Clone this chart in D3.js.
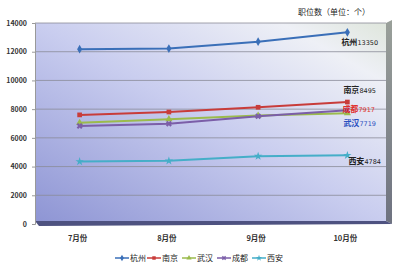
<!DOCTYPE html>
<html lang="zh">
<head>
<meta charset="utf-8" />
<title>职位数</title>
<script src="https://cdn.jsdelivr.net/npm/d3@7"></script>
<style>
	body { margin: 0; background: #fff; }
	text { font-family: "Noto Sans CJK SC", "DejaVu Sans", sans-serif; }
	.tick-label { font-size: 7px; font-weight: bold; fill: #333; }
	.cat-label { font-size: 7.5px; font-weight: bold; fill: #333; }
	.legend text { font-size: 8px; fill: #222; }
</style>
</head>
<body>
<svg width="400" height="269"></svg>
<script>
//	categories and series
var months = ["7月份", "8月份", "9月份", "10月份"];
var cities = ["杭州", "南京", "武汉", "成都", "西安"];
var hangzhou = [12180, 12220, 12700, 13350];
var nanjing = [7600, 7800, 8130, 8495];
var wuhan = [7050, 7300, 7550, 7719];
var chengdu = [6830, 6980, 7500, 7917];
var xian = [4350, 4400, 4720, 4784];
var yTicks = [0, 2000, 4000, 6000, 8000, 10000, 12000, 14000];

var seriesValues = [hangzhou, nanjing, wuhan, chengdu, xian];

//	styles per series
var colors = ["#3a6fb8", "#c83c3a", "#9bbb4c", "#7b5ea8", "#45aec8"];
var symbols = [d3.symbolDiamond, d3.symbolSquare, d3.symbolTriangle, d3.symbolCross, d3.symbolStar];
var labelColor = ["#222", "#222", "#2a4fc0", "#e0302c", "#222"];
var labelDx = [-6, -4, -4, -5, 1];
var labelDy = [13, -9, 13, 2, 9];

var svg = d3.select("svg");

var x = d3.scaleBand().domain(months).range([35, 392]);
var y = d3.scaleLinear().domain([0, 14000]).range([224, 23]);

var defs = svg.append("defs");
var wallGrad = defs.append("linearGradient")
	.attr("id", "wall").attr("x1", "0").attr("y1", "1").attr("x2", "1").attr("y2", "0");
wallGrad.append("stop").attr("offset", "0").attr("stop-color", "#8e95d4");
wallGrad.append("stop").attr("offset", "0.5").attr("stop-color", "#c9cdef");
wallGrad.append("stop").attr("offset", "0.85").attr("stop-color", "#eef0f6");
wallGrad.append("stop").attr("offset", "1").attr("stop-color", "#dfe6dc");

var sideGrad = defs.append("linearGradient")
	.attr("id", "side").attr("x1", "0").attr("y1", "0").attr("x2", "0").attr("y2", "1");
sideGrad.append("stop").attr("offset", "0").attr("stop-color", "#9aa09a");
sideGrad.append("stop").attr("offset", "1").attr("stop-color", "#6e7280");

var x0 = x.range()[0], x1 = x.range()[1] - 6;

//	back wall, side and floor
svg.append("rect")
	.attr("x", x0).attr("y", y(14000))
	.attr("width", x1 - x0).attr("height", y(0) - y(14000) - 3)
	.attr("fill", "url(#wall)");
svg.append("polygon")
	.attr("points", [[x1, y(14000)], [x1 + 6, y(14000) - 3], [x1 + 6, y(0)], [x1, y(0) - 3]].join(" "))
	.attr("fill", "url(#side)");
svg.append("polygon")
	.attr("points", [[x0, y(0) - 3], [x1, y(0) - 3], [x1 + 6, y(0)], [x0 + 4, y(0) + 2]].join(" "))
	.attr("fill", "#4e5280");

//	gridlines
svg.append("g").selectAll("line")
	.data(yTicks.slice(1))
	.enter().append("line")
	.attr("x1", x0).attr("x2", x1)
	.attr("y1", function(d) { return y(d); })
	.attr("y2", function(d) { return y(d); })
	.attr("stroke", "#8a8c98")
	.attr("stroke-width", 0.8);

//	y axis
var yAxis = svg.append("g")
	.attr("transform", "translate(" + x0 + ",0)")
	.call(d3.axisLeft(y).tickValues(yTicks).tickSize(3).tickPadding(5).tickFormat(d3.format("d")));
yAxis.select(".domain").attr("stroke", "#999");
yAxis.selectAll(".tick line").attr("stroke", "#999");
yAxis.selectAll(".tick text").attr("class", "tick-label").attr("font-family", null).attr("font-size", null).attr("fill", null);

//	category labels
svg.append("g").selectAll("text")
	.data(months)
	.enter().append("text")
	.attr("class", "cat-label")
	.attr("x", function(d) { return x(d) + x.bandwidth() / 2 - 2; })
	.attr("y", 241)
	.attr("text-anchor", "middle")
	.text(function(d) { return d; });

//	series lines and markers
var line = d3.line()
	.x(function(d, i) { return x(months[i]) + x.bandwidth() / 2; })
	.y(function(d) { return y(d); });

var series = svg.append("g").selectAll("g")
	.data(seriesValues)
	.enter().append("g");

series.append("path")
	.attr("d", line)
	.attr("fill", "none")
	.attr("stroke", function(d, i) { return colors[i]; })
	.attr("stroke-width", 2);

series.each(function(vals, si) {
	d3.select(this).selectAll("path.pt")
		.data(vals)
		.enter().append("path")
		.attr("class", "pt")
		.attr("transform", function(d, i) {
			return "translate(" + (x(months[i]) + x.bandwidth() / 2) + "," + y(d) + ")" + (si === 3 ? " rotate(45)" : "");
		})
		.attr("d", d3.symbol().type(symbols[si]).size(22))
		.attr("fill", colors[si]);
});

//	end labels
var last = months.length - 1;
svg.append("g").selectAll("text")
	.data(cities)
	.enter().append("text")
	.attr("x", function(d, i) { return x(months[last]) + x.bandwidth() / 2 + labelDx[i]; })
	.attr("y", function(d, i) { return y(seriesValues[i][last]) + labelDy[i]; })
	.attr("fill", function(d, i) { return labelColor[i]; })
	.style("font-size", "8px")
	.style("font-weight", "bold")
	.text(function(d, i) { return d; })
	.append("tspan")
	.style("font-size", "6.5px")
	.style("font-family", "DejaVu Sans")
	.style("font-weight", "normal")
	.text(function(d, i) { return seriesValues[i][last]; });

//	title
svg.append("text")
	.attr("x", 334).attr("y", 15)
	.attr("text-anchor", "middle")
	.style("font-size", "8px")
	.attr("fill", "#222")
	.text("职位数（单位：个）");

//	legend
var legendX = [115, 147, 182, 217, 252];
var legend = svg.append("g").attr("class", "legend")
	.selectAll("g")
	.data(cities)
	.enter().append("g")
	.attr("transform", function(d, i) { return "translate(" + legendX[i] + ",258)"; });
legend.append("line")
	.attr("x1", 0).attr("x2", 14)
	.attr("stroke", function(d, i) { return colors[i]; })
	.attr("stroke-width", 1.5);
legend.append("path")
	.attr("transform", function(d, i) { return "translate(7,0)" + (i === 3 ? " rotate(45)" : ""); })
	.attr("d", function(d, i) { return d3.symbol().type(symbols[i]).size(12)(); })
	.attr("fill", function(d, i) { return colors[i]; });
legend.append("text")
	.attr("x", 15).attr("y", 3)
	.text(function(d) { return d; });
</script>
</body>
</html>
